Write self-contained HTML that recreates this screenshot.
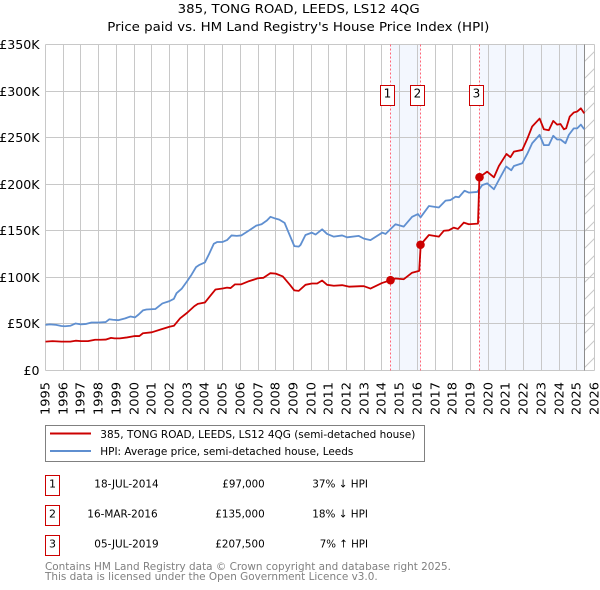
<!DOCTYPE html>
<html>
<head>
<meta charset="utf-8">
<title>385, TONG ROAD, LEEDS, LS12 4QG</title>
<style>
html,body{margin:0;padding:0;background:#fff;}
body{width:600px;height:590px;overflow:hidden;}
svg{display:block;font-family:"DejaVu Sans","Liberation Sans",sans-serif;}
</style>
</head>
<body>
<svg id="chart" width="600" height="590" viewBox="0 0 600 590" xmlns="http://www.w3.org/2000/svg">
  <defs>
    <pattern id="hatch" width="17" height="17" patternUnits="userSpaceOnUse">
      <path d="M0 17L17 0" stroke="#c8c8c8" stroke-width="1" fill="none"/>
    </pattern>
  </defs>
  <rect x="0" y="0" width="600" height="590" fill="#fff"/>
  <g id="shades"></g>
  <g id="grid"></g>
  <g id="hatchlayer"></g>
  <g id="salelines"></g>
  <g id="series"></g>
  <g id="markers"></g>
  <g id="ylabels" font-size="12" fill="#000" text-anchor="end"></g>
  <g id="xlabels" font-size="12" fill="#000"></g>

  <text x="177.7" y="13" font-size="12" fill="#000" textLength="242" lengthAdjust="spacingAndGlyphs">385, TONG ROAD, LEEDS, LS12 4QG</text>
  <text x="107.3" y="31" font-size="12" fill="#000" textLength="382" lengthAdjust="spacingAndGlyphs">Price paid vs. HM Land Registry's House Price Index (HPI)</text>

  <g>
    <rect x="380.5" y="85.5" width="14" height="20" fill="#fff" stroke="#cc0000"/>
    <text x="387.5" y="97.5" font-size="12" text-anchor="middle">1</text>
  </g>
  <g>
    <rect x="410.5" y="85.5" width="14" height="20" fill="#fff" stroke="#cc0000"/>
    <text x="417.5" y="97.5" font-size="12" text-anchor="middle">2</text>
  </g>
  <g>
    <rect x="469.5" y="85.5" width="14" height="20" fill="#fff" stroke="#cc0000"/>
    <text x="476.5" y="97.5" font-size="12" text-anchor="middle">3</text>
  </g>

  <g>
    <rect x="45.5" y="425.5" width="379" height="36" fill="#fff" stroke="#808080"/>
    <line x1="50" y1="433.5" x2="91" y2="433.5" stroke="#cc0000" stroke-width="2"/>
    <text x="100.3" y="438" font-size="11" fill="#000" textLength="315" lengthAdjust="spacingAndGlyphs">385, TONG ROAD, LEEDS, LS12 4QG (semi-detached house)</text>
    <line x1="50" y1="451" x2="91" y2="451" stroke="#5f8fd0" stroke-width="2"/>
    <text x="100.3" y="455" font-size="11" fill="#000" textLength="253" lengthAdjust="spacingAndGlyphs">HPI: Average price, semi-detached house, Leeds</text>
  </g>

  <g font-size="11" fill="#000">
    <g>
      <rect x="45.5" y="475.5" width="14" height="20" fill="#fff" stroke="#cc0000"/>
      <text x="52.5" y="487.3" text-anchor="middle">1</text>
      <text x="94.3" y="487.3" textLength="64.4" lengthAdjust="spacingAndGlyphs">18-JUL-2014</text>
      <text x="222.3" y="487.3" textLength="42.4" lengthAdjust="spacingAndGlyphs">£97,000</text>
      <text x="312.3" y="487.3" textLength="55.7" lengthAdjust="spacingAndGlyphs">37% ↓ HPI</text>
    </g>
    <g>
      <rect x="45.5" y="505.5" width="14" height="20" fill="#fff" stroke="#cc0000"/>
      <text x="52.5" y="517.3" text-anchor="middle">2</text>
      <text x="87.3" y="517.3" textLength="70.4" lengthAdjust="spacingAndGlyphs">16-MAR-2016</text>
      <text x="215.3" y="517.3" textLength="49.4" lengthAdjust="spacingAndGlyphs">£135,000</text>
      <text x="312.3" y="517.3" textLength="55.7" lengthAdjust="spacingAndGlyphs">18% ↓ HPI</text>
    </g>
    <g>
      <rect x="45.5" y="535.5" width="14" height="20" fill="#fff" stroke="#cc0000"/>
      <text x="52.5" y="547.3" text-anchor="middle">3</text>
      <text x="94.3" y="547.3" textLength="64.4" lengthAdjust="spacingAndGlyphs">05-JUL-2019</text>
      <text x="215.3" y="547.3" textLength="49.4" lengthAdjust="spacingAndGlyphs">£207,500</text>
      <text x="319.7" y="547.3" textLength="48.3" lengthAdjust="spacingAndGlyphs">7% ↑ HPI</text>
    </g>
  </g>

  <text x="45" y="570" font-size="11" fill="#808080" textLength="406" lengthAdjust="spacingAndGlyphs">Contains HM Land Registry data © Crown copyright and database right 2025.</text>
  <text x="45" y="580" font-size="11" fill="#808080" textLength="332.7" lengthAdjust="spacingAndGlyphs">This data is licensed under the Open Government Licence v3.0.</text>
</svg>
<script>
const yTicks = [0, 50, 100, 150, 200, 250, 300, 350];
const yTickLabels = ["£0", "£50K", "£100K", "£150K", "£200K", "£250K", "£300K", "£350K"];
const xYears = [1995,1996,1997,1998,1999,2000,2001,2002,2003,2004,2005,2006,2007,2008,2009,2010,2011,2012,2013,2014,2015,2016,2017,2018,2019,2020,2021,2022,2023,2024,2025,2026];

const hpiDates = [1995,1995.25,1995.6,1995.9,1996.1,1996.4,1996.7,1997,1997.3,1997.6,1998,1998.4,1998.6,1998.8,1999.1,1999.5,1999.8,2000.05,2000.25,2000.5,2000.7,2001.2,2001.6,2002,2002.25,2002.4,2002.7,2003,2003.25,2003.5,2003.7,2004,2004.25,2004.5,2004.7,2005,2005.25,2005.5,2005.8,2006.05,2006.5,2006.9,2007.2,2007.5,2007.7,2008,2008.2,2008.5,2008.75,2009.05,2009.3,2009.4,2009.68,2010.04,2010.25,2010.62,2010.9,2011.28,2011.75,2012.03,2012.69,2012.98,2013.35,2014.01,2014.2,2014.76,2015.23,2015.7,2016.03,2016.18,2016.65,2017.21,2017.59,2017.87,2018.15,2018.34,2018.66,2018.9,2019.38,2019.66,2019.94,2020.32,2020.64,2021.01,2021.3,2021.45,2021.92,2022.2,2022.48,2022.9,2023.14,2023.42,2023.67,2023.89,2024.08,2024.36,2024.55,2024.83,2025.02,2025.23,2025.42];
const hpiValues = [49,49.5,49,47.8,47.5,48,50.5,49.5,50,51.5,51.5,52,55,54.5,54,56,58,57,60,64.5,65.5,66,72,74.5,77,83,88,96,103,111,113.5,116,125.6,136,138,138,140,145,144.5,145,150.5,155.5,157,161,165,163,162,158.5,147,133.5,133,134.8,145.5,148,146,151.6,146.6,143.7,145,143,144.5,141.6,140,148,146.6,157,154.5,165,168,164.5,176.6,175,182.4,183,186.6,186,193,191,191.7,199,201,194.6,206,219,215,219.6,222.5,232.5,244,253,242,242,252,248,248,244,253,260,260,264,259];

const priceDates = [1995,1995.4,1995.9,1996.4,1996.7,1997,1997.4,1997.8,1998.1,1998.4,1998.7,1998.9,1999.2,1999.6,2000.05,2000.3,2000.5,2001,2001.5,2002,2002.25,2002.6,2003,2003.4,2003.6,2004,2004.3,2004.6,2005,2005.25,2005.45,2005.7,2006.05,2006.5,2007,2007.3,2007.7,2008,2008.4,2008.8,2009.05,2009.3,2009.68,2010.04,2010.34,2010.62,2010.9,2011.28,2011.75,2012.13,2012.79,2012.98,2013.35,2014.01,2014.5,2014.76,2015.23,2015.7,2016.1,2016.19,2016.65,2017.21,2017.49,2017.77,2018.05,2018.29,2018.62,2018.9,2019.42,2019.5,2019.94,2020.32,2020.6,2021.03,2021.25,2021.45,2021.92,2022.2,2022.48,2022.9,2023.14,2023.42,2023.67,2023.89,2024.08,2024.27,2024.4,2024.6,2024.83,2025.02,2025.23,2025.42];
const priceValues = [31,31.5,31,31,32,31.5,31.5,33,33,33.2,35,34.5,34.5,35.5,37,37,40,41,44,47,48,56,62,69,71.5,73,80,87,88,89,88.5,92.5,92.5,96,99,99.5,104.5,104,101,92,86,85.5,92,93.4,93.4,96.6,92,91,91.6,90,90.5,90.5,88,94,97,98.8,98,105,107,135.3,145.5,143.7,150,150.5,153.4,152,158.8,157,157.7,207.4,213.5,207.4,219.6,232.5,229,235,236.8,248.5,262,270.5,259,258,268,264,264.6,259,260,272.6,277,278,281.5,276];

const saleDates = [2014.49, 2016.17, 2019.5];
const salePrices = [97, 135, 207.5];

const NS = "http://www.w3.org/2000/svg";
function xScale(t) { return 45.5 + 17.71 * (t - 1995); }
function yScale(v) { return 370.5 - 0.9314 * v; }
function xSnap(t) { return Math.round(45 + 17.71 * (t - 1995)) + 0.5; }
function ySnap(v) { return Math.floor(yScale(v)) + 0.5; }
function make(tag, parent, attrs) {
  const el = document.createElementNS(NS, tag);
  for (const k in attrs) el.setAttribute(k, attrs[k]);
  document.getElementById(parent).appendChild(el);
  return el;
}
const top0 = ySnap(350), bot0 = ySnap(0), left0 = xSnap(1995), right0 = xSnap(2026);

// sale-period shading
const shadeEnds = [saleDates[1], 2025.45];
const shadeStarts = [saleDates[0], saleDates[2]];
shadeStarts.forEach(function (s, i) {
  const r = make("rect", "shades", { x: xSnap(s), y: top0, width: xSnap(shadeEnds[i]) - xSnap(s), height: bot0 - top0, fill: "#f3f7fe" });
  
  
});

// grid
xYears.forEach(function (yr) {
  const l = make("line", "grid", { x1: xSnap(yr), x2: xSnap(yr), y1: top0, y2: bot0, stroke: "#c8c8c8", "stroke-width": 1 });
  
  
});
yTicks.forEach(function (v) {
  const l = make("line", "grid", { x1: left0, x2: right0, y1: ySnap(v), y2: ySnap(v), stroke: "#c8c8c8", "stroke-width": 1 });
  
  
});

// hatched region after the last data date
const hatchStart = xSnap(2025.45);
const hatchRect = make("rect", "hatchlayer", { x: hatchStart, y: top0, width: right0 - hatchStart, height: bot0 - top0, fill: "url(#hatch)" });


const hatchEdge = make("line", "hatchlayer", { x1: hatchStart, x2: hatchStart, y1: top0, y2: bot0, stroke: "#8c8c8c", "stroke-width": 1 });



// sale date lines
saleDates.forEach(function (d) {
  const l = make("line", "salelines", { x1: xSnap(d), x2: xSnap(d), y1: top0, y2: bot0, stroke: "#ff6678", "stroke-width": 1, "stroke-dasharray": "2,2" });
  
  
});

// series
function pathFor(dates, values) {
  return dates.map(function (d, i) {
    return (i ? "L" : "M") + xScale(d).toFixed(2) + " " + yScale(values[i]).toFixed(2);
  }).join("");
}
const hpiLine = make("path", "series", { d: pathFor(hpiDates, hpiValues), fill: "none", stroke: "#5f8fd0", "stroke-width": 1.8, "stroke-linejoin": "round" });


const priceLine = make("path", "series", { d: pathFor(priceDates, priceValues), fill: "none", stroke: "#cc0000", "stroke-width": 1.8, "stroke-linejoin": "round" });



// sale markers
saleDates.forEach(function (d, i) {
  const c = make("circle", "markers", { cx: xSnap(d), cy: yScale(salePrices[i]), r: 4.3, fill: "#cc0000" });
  
  
});

// axis labels
yTicks.forEach(function (v, i) {
  const t = make("text", "ylabels", { x: 39.5, y: ySnap(v) + 4.5 });
  
  
  t.textContent = yTickLabels[i];
  t.setAttribute("textLength", (t.getComputedTextLength() * 1.05).toFixed(1));
  t.setAttribute("lengthAdjust", "spacingAndGlyphs");
});
xYears.forEach(function (yr) {
  const x = xSnap(yr) + 4, y = 415;
  const t = make("text", "xlabels", { x: x, y: y, transform: "rotate(-90 " + x + " " + y + ")", textLength: 33, lengthAdjust: "spacingAndGlyphs" });
  
  
  t.textContent = String(yr);
});
</script>
</body>
</html>
